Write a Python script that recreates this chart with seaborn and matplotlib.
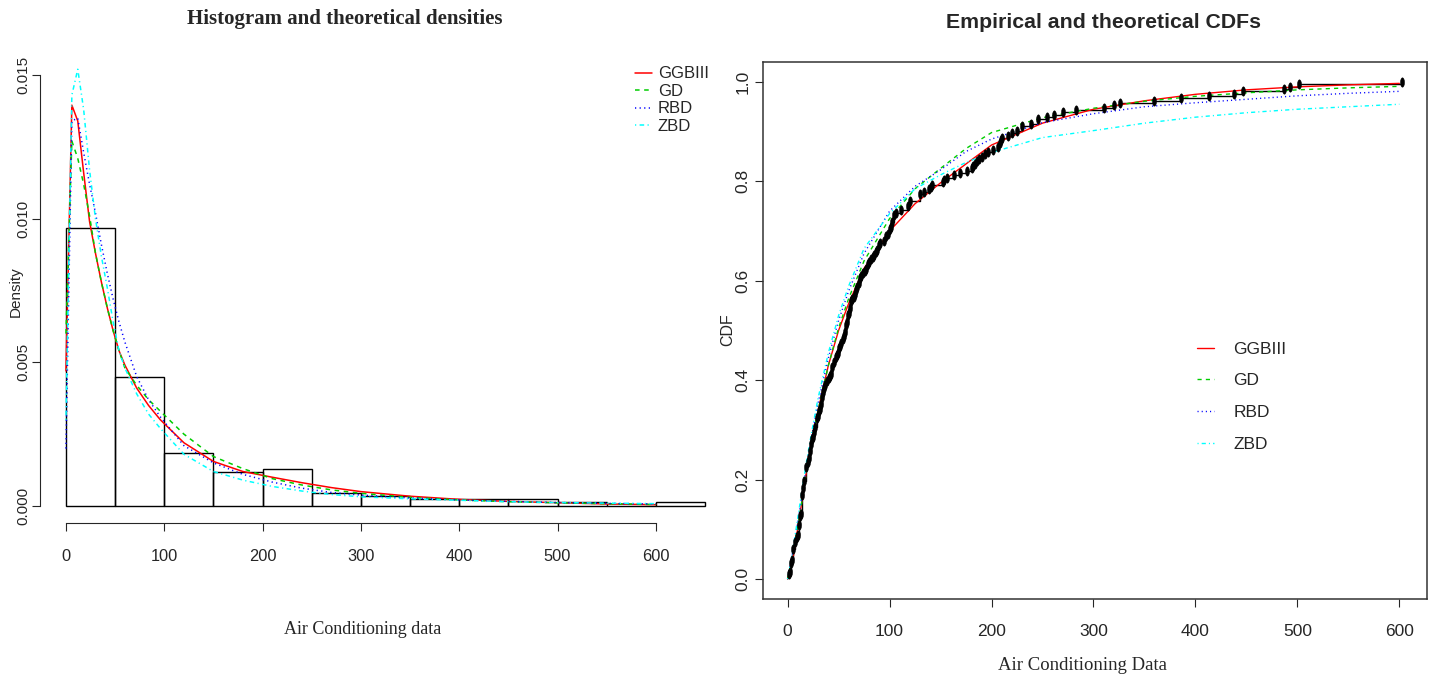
import numpy as np
import pandas as pd
import matplotlib
matplotlib.use("Agg")
import matplotlib.pyplot as plt
from matplotlib.path import Path
import seaborn as sns

# Air conditioning failure times (hours), as seen in the ECDF points
ac_hours = [
    194, 15, 41, 29, 33, 181,
    413, 14, 58, 37, 100, 65, 9, 169, 447, 184, 36, 201, 118, 34, 31, 18, 18, 67, 57, 62, 7, 22, 34,
    90, 10, 60, 186, 61, 49, 14, 24, 56, 20, 79, 84, 44, 59, 29, 118, 25, 156, 310, 76, 26, 44, 23, 62,
    130, 208, 70, 101, 208,
    74, 57, 48, 29, 502, 12, 70, 21, 29, 386, 59, 27, 153, 26, 326,
    55, 320, 56, 104, 220, 239, 47, 246, 176, 182, 33, 15, 104, 35,
    23, 261, 87, 7, 120, 14, 62, 47, 225, 71, 246, 21, 42, 20, 5, 12, 120, 11, 3, 14, 71, 11, 14, 11,
    16, 90, 1, 16, 52, 95,
    97, 51, 11, 4, 141, 18, 142, 68, 77, 80, 1, 16, 106, 206, 82, 54, 31, 216, 46, 111, 39, 63, 18,
    191, 18, 163, 24,
    50, 44, 102, 72, 22, 39, 3, 15, 197, 188, 79, 88, 46, 5, 5, 36, 22, 139, 210, 97, 30, 23, 13, 14,
    359, 9, 12, 270, 603, 3, 104, 2, 438,
    50, 254, 5, 283, 35, 12,
    130, 493,
    487, 18, 100, 7, 98, 5, 85, 91, 43, 230, 3, 130,
    102, 209, 14, 57, 54, 32, 67, 59, 134, 152, 27, 14, 230, 66, 61, 34,
]

# histogram bins and bar heights (density)
bin_edges = list(range(0, 651, 50))
hist_density = [0.00967, 0.00449, 0.00184, 0.00118, 0.00129, 0.00045, 0.00035,
                0.00023, 0.00023, 0.00024, 0.00015, 0.0, 0.00015]

models = ["GGBIII", "GD", "RBD", "ZBD"]
colors = ["red", "#00CD00", "blue", "cyan"]
styles = ["-", (0, (3, 3)), (0, (0.8, 2.2)), (0, (0.8, 2.2, 3, 2.2))]

# theoretical densities
dens_x = [0, 6, 12, 18, 24, 30, 36, 42, 48, 54, 60, 72, 84, 96, 120, 150, 180, 210, 240, 270,
          300, 350, 400, 450, 500, 550, 600]
dens_ggbiii = [0.0047, 0.01395, 0.0134, 0.0116, 0.0099, 0.0088, 0.0078, 0.0069, 0.0061, 0.0054,
               0.0049, 0.0041, 0.0035, 0.0030, 0.0022, 0.00155, 0.0012, 0.00100, 0.00081, 0.00064,
               0.0005, 0.00034, 0.00023, 0.00016, 0.000115, 0.00007, 0.000045]
dens_gd = [0.006, 0.0127, 0.0121, 0.0112, 0.0101, 0.0088, 0.0078, 0.0069, 0.0061, 0.0054,
           0.0048, 0.0042, 0.0037, 0.0033, 0.0025, 0.00172, 0.0013, 0.00095, 0.00073, 0.00056,
           0.00044, 0.0003, 0.00021, 0.00015, 0.00011, 0.00008, 0.00005]
dens_rbd = [0.002, 0.0134, 0.0135, 0.0123, 0.0112, 0.0102, 0.0091, 0.0081, 0.0072, 0.0064,
            0.0057, 0.0045, 0.0037, 0.0031, 0.0021, 0.0015, 0.0011, 0.00083, 0.00062, 0.00047,
            0.00038, 0.00028, 0.00021, 0.00016, 0.00012, 0.00009, 0.00007]
dens_zbd = [0.003, 0.0143, 0.0152, 0.0138, 0.0117, 0.0100, 0.0087, 0.0076, 0.0064, 0.0054,
            0.0048, 0.0039, 0.0032, 0.0027, 0.0018, 0.0012, 0.0009, 0.00068, 0.00052, 0.0004,
            0.00032, 0.00025, 0.0002, 0.00015, 0.00012, 0.0001, 0.00008]

# theoretical CDFs
cdf_x = [0, 6, 12, 18, 24, 30, 40, 50, 60, 75, 100, 125, 150, 175, 200, 250, 300, 350, 400,
         450, 500, 550, 600]
cdf_ggbiii = [0, 0.05, 0.13, 0.21, 0.28, 0.34, 0.43, 0.50, 0.555, 0.625, 0.70, 0.755, 0.797,
              0.835, 0.873, 0.917, 0.945, 0.962, 0.975, 0.984, 0.990, 0.994, 0.997]
cdf_gd = [0, 0.06, 0.13, 0.21, 0.28, 0.34, 0.43, 0.505, 0.565, 0.64, 0.725, 0.785, 0.826,
          0.866, 0.898, 0.928, 0.947, 0.961, 0.971, 0.978, 0.984, 0.988, 0.991]
cdf_rbd = [0, 0.065, 0.14, 0.22, 0.29, 0.355, 0.445, 0.52, 0.58, 0.655, 0.74, 0.79, 0.823,
           0.86, 0.885, 0.918, 0.936, 0.95, 0.958, 0.965, 0.972, 0.977, 0.981]
cdf_zbd = [0, 0.07, 0.15, 0.23, 0.30, 0.365, 0.455, 0.53, 0.59, 0.665, 0.735, 0.785, 0.813,
           0.838, 0.858, 0.888, 0.902, 0.917, 0.929, 0.938, 0.945, 0.95, 0.955]

dens_curves = [dens_ggbiii, dens_gd, dens_rbd, dens_zbd]
cdf_curves = [cdf_ggbiii, cdf_gd, cdf_rbd, cdf_zbd]

sns.set_style("ticks")
plt.rcParams['font.family'] = ['Liberation Sans', 'DejaVu Sans']

W, H = 1439, 679
fig = plt.figure(figsize=(W / 100, H / 100), dpi=100)


def add_axes_px(left, top, right, bottom):
    return fig.add_axes([left / W, 1 - bottom / H, (right - left) / W, (bottom - top) / H])


# ---------------- left: histogram + densities ----------------
ax1 = add_axes_px(40, 52, 719, 523)
mids = [(a + b) / 2 for a, b in zip(bin_edges[:-1], bin_edges[1:])]
hist_df = pd.DataFrame({"mid": mids, "density": hist_density})
sns.histplot(data=hist_df, x="mid", weights="density", bins=bin_edges, stat="count",
             fill=False, color="black", linewidth=1.0, ax=ax1)
for name, yv, c, ls in zip(models, dens_curves, colors, styles):
    sns.lineplot(x=dens_x, y=yv, color=c, linestyle=ls, lw=1.1, label=name, ax=ax1)

ax1.set_xlim(-26.4, 664.2)
ax1.set_ylim(-0.000592, 0.0158)
for s in ["top", "right"]:
    ax1.spines[s].set_visible(False)
ax1.spines["left"].set_bounds(0, 0.015)
ax1.spines["bottom"].set_bounds(0, 600)
ax1.set_xticks(range(0, 601, 100))
ax1.set_yticks([0, 0.005, 0.010, 0.015])
ax1.set_yticklabels(["0.000", "0.005", "0.010", "0.015"])
ax1.tick_params(axis="x", length=6, pad=13, labelsize=11.8)
ax1.tick_params(axis="y", length=6, pad=1, labelsize=11, labelrotation=90)
for lab in ax1.get_yticklabels():
    lab.set_va("center")
ax1.set_xlabel("")
ax1.set_ylabel("")
ax1.legend(loc="upper left", bbox_to_anchor=(627 / W, 1 - 58 / H),
           bbox_transform=fig.transFigure, frameon=False, borderpad=0,
           handlelength=1.0, handletextpad=0.35, labelspacing=0.15, fontsize=12)

# ---------------- right: ECDF + theoretical CDFs ----------------
ax2 = add_axes_px(763, 62, 1427, 599)
xs = np.sort(np.unique(ac_hours))
ecdf_y = np.searchsorted(np.sort(ac_hours), xs, side="right") / len(ac_hours)
sns.lineplot(x=xs, y=ecdf_y, drawstyle="steps-post", color="black", lw=1.0, ax=ax2)
for name, yv, c, ls in zip(models, cdf_curves, colors, styles):
    sns.lineplot(x=cdf_x, y=yv, color=c, linestyle=ls, lw=1.0, label=name, ax=ax2)
ell = np.linspace(0, 2 * np.pi, 40)
dot = Path(np.c_[0.42 * np.cos(ell), np.sin(ell)])
sns.scatterplot(x=xs, y=ecdf_y, marker=dot, s=45, color="black", edgecolor="black",
                linewidth=0.4, zorder=4, ax=ax2)

ax2.set_xlim(-24.12, 627.12)
ax2.set_ylim(-0.04, 1.04)
for s in ax2.spines.values():
    s.set_linewidth(1.1)
    s.set_color("#333333")
ax2.set_xticks(range(0, 601, 100))
ax2.set_yticks(np.arange(0, 1.01, 0.2))
ax2.set_yticklabels(["0.0", "0.2", "0.4", "0.6", "0.8", "1.0"])
ax2.tick_params(axis="x", length=6, pad=12, labelsize=12.5)
ax2.tick_params(axis="y", length=6, pad=3, labelsize=12.5, labelrotation=90)
for lab in ax2.get_yticklabels():
    lab.set_va("center")
ax2.set_xlabel("")
ax2.set_ylabel("")
ax2.legend(loc="upper left", bbox_to_anchor=(1188 / W, 1 - 333 / H),
           bbox_transform=fig.transFigure, frameon=False, borderpad=0,
           handlelength=1.0, handletextpad=1.1, labelspacing=0.95, fontsize=12.5)

# titles and axis labels
fig.text(345 / W, 1 - 19 / H, "Histogram and theoretical densities", ha="center", va="center",
         family="Liberation Serif", weight="bold", size=15)
fig.text(1103 / W, 1 - 22 / H, "Empirical and theoretical CDFs", ha="center", va="center",
         weight="bold", size=15.3)
fig.text(363 / W, 1 - 629 / H, "Air Conditioning data", ha="center", va="center",
         family="Liberation Serif", size=13)
fig.text(1083 / W, 1 - 666 / H, "Air Conditioning Data", ha="center", va="center",
         family="Liberation Serif", size=13.5)
fig.text(16 / W, 1 - 292 / H, "Density", rotation=90, ha="center", va="center", size=11)
fig.text(728 / W, 1 - 330 / H, "CDF", rotation=90, ha="center", va="center", size=11.5)

fig.savefig("out.png", dpi=100)
